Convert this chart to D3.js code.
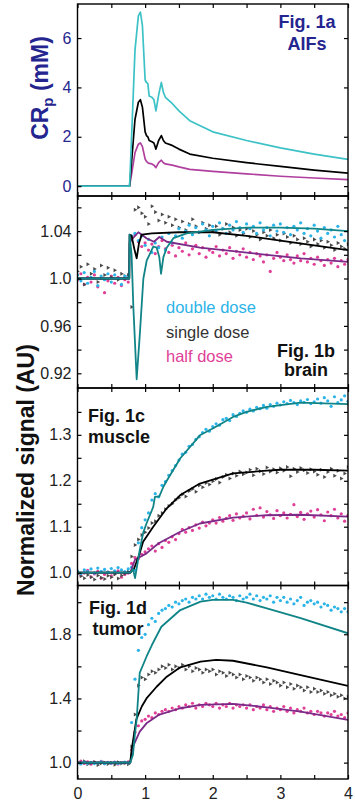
<!DOCTYPE html>
<html>
<head>
<meta charset="utf-8">
<script src="https://cdn.jsdelivr.net/npm/d3@7"></script>
<style>
  html, body { margin: 0; padding: 0; background: #fff; }
  svg { display: block; font-family: "Liberation Sans", Arial, sans-serif; }
</style>
</head>
<body>
<div id="chart"></div>
<script>
// sampling times (min) shared by all measured points
const sampleTimes = [
  0, 0.05, 0.1, 0.15, 0.2, 0.25, 0.3, 0.35, 0.4, 0.45,
  0.5, 0.55, 0.6, 0.65, 0.7, 0.75, 0.8, 0.85, 0.9, 0.95,
  1.0, 1.05, 1.1, 1.15, 1.2, 1.25, 1.3, 1.35, 1.4, 1.45,
  1.5, 1.55, 1.6, 1.65, 1.7, 1.75, 1.8, 1.85, 1.9, 1.95,
  2.0, 2.05, 2.1, 2.15, 2.2, 2.25, 2.3, 2.35, 2.4, 2.45,
  2.5, 2.55, 2.6, 2.65, 2.7, 2.75, 2.8, 2.85, 2.9, 2.95,
  3.0, 3.05, 3.1, 3.15, 3.2, 3.25, 3.3, 3.35, 3.4, 3.45,
  3.5, 3.55, 3.6, 3.65, 3.7, 3.75, 3.8, 3.85, 3.9, 3.95,
  4.0
];

// Fig 1a: arterial input functions (mM)
const aifTimes = [0, 0.77, 0.8, 0.85, 0.9, 0.93, 0.96, 1.0, 1.02, 1.04, 1.06, 1.1, 1.13, 1.16, 1.2, 1.24, 1.27, 1.3, 1.4, 1.5, 1.66, 2.0, 2.5, 3.0, 3.5, 4.0];
const aifDouble = [0, 0, 2.0, 5.5, 6.9, 7.05, 6.5, 4.3, 4.2, 4.15, 3.65, 3.6, 3.5, 3.05, 3.7, 4.2, 3.8, 3.6, 3.35, 3.05, 2.65, 2.2, 1.85, 1.55, 1.3, 1.08];
const aifSingle = [0, 0, 1.0, 2.7, 3.4, 3.5, 3.2, 2.2, 2.05, 2.0, 1.85, 1.8, 1.75, 1.5, 1.85, 2.05, 1.85, 1.75, 1.65, 1.5, 1.3, 1.13, 0.95, 0.8, 0.65, 0.53];
const aifHalf   = [0, 0, 0.5, 1.35, 1.7, 1.75, 1.6, 1.1, 1.0, 0.95, 0.92, 0.9, 0.85, 0.75, 0.95, 1.05, 0.95, 0.9, 0.85, 0.78, 0.68, 0.6, 0.5, 0.4, 0.33, 0.26];

// Fig 1b: brain
const brainDouble = [
  1.003, 0.998, 1.005, 0.996, 1.001, 1.006, 0.994, 1.002, 0.999, 1.004,
  0.997, 1.003, 1.000, 0.995, 1.002, 1.001, 1.036, 1.038, 1.032, 1.036,
  1.028, 1.033, 1.022, 1.030, 1.026, 1.035, 1.024, 1.038, 1.030, 1.036,
  1.042, 1.034, 1.040, 1.045, 1.037, 1.043, 1.039, 1.046, 1.041, 1.036,
  1.044, 1.040, 1.047, 1.042, 1.038, 1.045, 1.041, 1.048, 1.043, 1.039,
  1.046, 1.042, 1.044, 1.038, 1.047, 1.041, 1.043, 1.036, 1.045, 1.040,
  1.046, 1.039, 1.043, 1.037, 1.044, 1.041, 1.047, 1.038, 1.042, 1.036,
  1.045, 1.040, 1.034, 1.043, 1.038, 1.041, 1.035, 1.044, 1.037, 1.032,
  1.040
];
const brainSingle = [
  1.006, 1.010, 0.995, 1.012, 1.004, 1.008, 0.997, 1.011, 1.003, 1.009,
  1.001, 1.007, 0.999, 1.004, 1.002, 1.003, 0.976, 1.058, 1.060, 1.055,
  1.052, 1.046, 1.061, 1.056, 1.049, 1.054, 1.047, 1.052, 1.045, 1.050,
  1.043, 1.048, 1.041, 1.046, 1.050, 1.044, 1.039, 1.047, 1.042, 1.045,
  1.040, 1.044, 1.037, 1.042, 1.046, 1.039, 1.043, 1.036, 1.041, 1.038,
  1.042, 1.035, 1.040, 1.037, 1.033, 1.039, 1.036, 1.041, 1.034, 1.037,
  1.032, 1.038, 1.035, 1.030, 1.036, 1.033, 1.029, 1.034, 1.031, 1.027,
  1.033, 1.029, 1.032, 1.026, 1.031, 1.028, 1.024, 1.030, 1.027, 1.025,
  1.029
];
const brainHalf = [
  0.999, 1.004, 0.995, 1.001, 0.997, 1.003, 0.993, 1.000, 0.988, 0.998,
  1.002, 0.996, 1.001, 0.994, 0.999, 0.997, 1.034, 1.037, 1.031, 1.027,
  1.030, 1.024, 1.029, 1.021, 1.027, 1.032, 1.025, 1.022, 1.028, 1.019,
  1.026, 1.023, 1.030, 1.020, 1.025, 1.028, 1.021, 1.026, 1.018, 1.024,
  1.022, 1.027, 1.019, 1.024, 1.021, 1.026, 1.017, 1.023, 1.020, 1.025,
  1.018, 1.022, 1.016, 1.021, 1.019, 1.014, 1.020, 1.006, 1.017, 1.022,
  1.018, 1.015, 1.020, 1.016, 1.013, 1.019, 1.015, 1.021, 1.014, 1.017,
  1.012, 1.018, 1.015, 1.011, 1.016, 1.013, 1.017, 1.010, 1.015, 1.012,
  1.016
];
const brainFitDoubleT = [0, 0.765, 0.77, 0.8, 0.826, 0.875, 0.924, 0.974, 1.023, 1.122, 1.171, 1.21, 1.235, 1.27, 1.319, 1.418, 1.615, 2.0, 2.5, 3.0, 3.5, 4.0];
const brainFitDouble  = [1.0, 1.0, 1.037, 1.02, 0.976, 0.915, 0.955, 1.0, 1.015, 1.027, 1.026, 1.018, 1.004, 1.018, 1.026, 1.034, 1.038, 1.041, 1.043, 1.043, 1.042, 1.040];
const brainFitSingleT = [0, 0.765, 0.77, 0.8, 0.84, 0.875, 0.91, 0.95, 1.1, 1.5, 2.0, 2.5, 3.0, 3.5, 4.0];
const brainFitSingle  = [1.0, 1.0, 1.037, 1.036, 1.025, 1.017, 1.03, 1.037, 1.038, 1.039, 1.039, 1.036, 1.032, 1.028, 1.024];
const brainFitHalfT = [0, 0.765, 0.77, 0.82, 0.9, 1.02, 1.13, 1.21, 1.32, 1.81, 2.3, 2.8, 3.3, 4.0];
const brainFitHalf  = [1.0, 1.0, 1.03, 1.034, 1.039, 1.034, 1.031, 1.035, 1.031, 1.026, 1.023, 1.020, 1.017, 1.014];

// Fig 1c: muscle
const muscleDouble = [
  1.004, 0.998, 1.006, 1.002, 1.008, 0.999, 1.010, 1.003, 1.007, 1.001,
  1.009, 1.004, 1.011, 1.006, 1.002, 1.008, 1.012, 1.005, 1.065, 1.098,
  1.115, 1.130, 1.158, 1.172, 1.165, 1.190, 1.198, 1.212, 1.222, 1.233,
  1.245, 1.258, 1.262, 1.275, 1.279, 1.290, 1.296, 1.305, 1.312, 1.308,
  1.318, 1.324, 1.321, 1.333, 1.336, 1.331, 1.344, 1.340, 1.347, 1.352,
  1.349, 1.356, 1.352, 1.360, 1.357, 1.364, 1.358, 1.366, 1.362, 1.369,
  1.365, 1.372, 1.368, 1.375, 1.370, 1.366, 1.374, 1.371, 1.377, 1.368,
  1.372, 1.378, 1.369, 1.381, 1.374, 1.362, 1.383, 1.370, 1.376, 1.385,
  1.373
];
const muscleSingle = [
  0.997, 0.992, 0.988, 0.995, 0.990, 0.985, 0.994, 0.989, 0.986, 0.993,
  0.990, 0.996, 0.987, 0.994, 0.998, 1.002, 1.035, 1.060, 1.072, 1.082,
  1.088, 1.097, 1.108, 1.112, 1.124, 1.130, 1.138, 1.145, 1.150, 1.158,
  1.163, 1.170, 1.166, 1.178, 1.182, 1.176, 1.190, 1.186, 1.195, 1.192,
  1.199, 1.204, 1.196, 1.208, 1.213, 1.205, 1.216, 1.211, 1.220, 1.214,
  1.218, 1.224, 1.212, 1.226, 1.221, 1.215, 1.229, 1.220, 1.225, 1.218,
  1.227, 1.222, 1.230, 1.210, 1.226, 1.219, 1.228, 1.223, 1.217, 1.225,
  1.220, 1.213, 1.224, 1.208, 1.219, 1.226, 1.211, 1.222, 1.205, 1.216,
  1.230
];
const muscleHalf = [
  1.002, 0.994, 0.999, 1.005, 0.991, 0.997, 1.003, 0.988, 0.996, 1.001,
  0.993, 0.998, 1.004, 0.990, 0.996, 0.999, 1.020, 1.033, 1.030, 1.040,
  1.045, 1.052, 1.058, 1.047, 1.063, 1.055, 1.070, 1.066, 1.078, 1.072,
  1.085, 1.094, 1.088, 1.098, 1.092, 1.104, 1.097, 1.110, 1.102, 1.108,
  1.115, 1.108, 1.120, 1.112, 1.118, 1.124, 1.114, 1.128, 1.119, 1.123,
  1.130, 1.117, 1.138, 1.125, 1.141, 1.121, 1.133, 1.126, 1.118, 1.135,
  1.124, 1.130, 1.119, 1.127, 1.148, 1.122, 1.131, 1.116, 1.128, 1.134,
  1.121, 1.137, 1.126, 1.113, 1.132, 1.124, 1.138, 1.119, 1.128, 1.112,
  1.125
];
const muscleFitDoubleT = [0, 0.78, 0.82, 0.851, 0.92, 0.97, 1.02, 1.12, 1.145, 1.21, 1.27, 1.32, 1.52, 1.81, 2.0, 2.3, 2.5, 2.8, 3.3, 4.0];
const muscleFitDouble  = [1.0, 1.0, 1.008, 0.988, 1.049, 1.086, 1.107, 1.143, 1.165, 1.166, 1.187, 1.2, 1.249, 1.299, 1.314, 1.339, 1.35, 1.361, 1.37, 1.367];
const muscleFitSingleT = [0, 0.78, 0.84, 0.92, 0.97, 1.12, 1.32, 1.52, 1.81, 2.3, 2.8, 3.0, 3.5, 4.0];
const muscleFitSingle  = [1.0, 1.0, 1.01, 1.042, 1.067, 1.1, 1.14, 1.169, 1.194, 1.216, 1.222, 1.224, 1.224, 1.222];
const muscleFitHalfT = [0, 0.78, 0.85, 1.02, 1.2, 1.52, 1.81, 2.3, 2.8, 3.3, 4.0];
const muscleFitHalf  = [1.0, 1.0, 1.028, 1.042, 1.064, 1.089, 1.107, 1.12, 1.125, 1.126, 1.122];

// Fig 1d: tumor
const tumorDouble = [
  0.998, 0.992, 1.003, 0.996, 1.001, 0.994, 0.999, 1.005, 0.993, 1.000,
  0.997, 1.002, 0.995, 0.999, 1.004, 0.998, 1.25, 1.52, 1.70, 1.78,
  1.80, 1.86, 1.90, 1.88, 1.93, 1.95, 1.96, 1.98, 1.97, 2.00,
  1.99, 2.01, 2.02, 2.00, 2.03, 2.02, 2.04, 2.02, 2.05, 2.03,
  2.04, 2.02, 2.05, 2.03, 2.02, 2.04, 2.03, 2.01, 2.04, 2.02,
  2.03, 2.05, 2.02, 2.04, 2.01, 2.03, 2.02, 2.04, 2.00, 2.03,
  2.01, 2.03, 2.00, 2.02, 1.99, 2.01, 2.03, 1.98, 2.00, 2.01,
  1.99, 2.00, 1.97, 1.99, 1.98, 1.95, 1.97, 1.96, 1.94, 1.96,
  1.94
];
const tumorSingle = [
  1.002, 0.995, 1.008, 0.990, 0.998, 1.004, 0.985, 0.996, 1.001, 0.992,
  0.999, 0.987, 1.003, 0.994, 0.998, 0.990, 1.10, 1.30, 1.48, 1.53,
  1.52, 1.55, 1.57, 1.56, 1.58, 1.60, 1.59, 1.61, 1.58, 1.60,
  1.59, 1.61, 1.58, 1.60, 1.57, 1.59, 1.58, 1.56, 1.58, 1.57,
  1.58, 1.55, 1.57, 1.56, 1.54, 1.56, 1.55, 1.53, 1.55, 1.52,
  1.54, 1.53, 1.51, 1.53, 1.52, 1.50, 1.52, 1.49, 1.51, 1.50,
  1.48, 1.50, 1.47, 1.49, 1.46, 1.48, 1.47, 1.45, 1.47, 1.44,
  1.46, 1.44, 1.45, 1.43, 1.44, 1.42, 1.43, 1.41, 1.42, 1.40,
  1.41
];
const tumorHalf = [
  1.00, 1.01, 0.995, 1.005, 0.99, 1.003, 0.997, 1.008, 0.993, 1.002,
  0.996, 1.004, 0.991, 1.00, 0.998, 1.005, 1.08, 1.19, 1.23, 1.26,
  1.27, 1.29, 1.28, 1.31, 1.30, 1.32, 1.33, 1.32, 1.34, 1.33,
  1.35, 1.34, 1.36, 1.35, 1.37, 1.34, 1.36, 1.35, 1.37, 1.36,
  1.35, 1.37, 1.34, 1.36, 1.35, 1.37, 1.34, 1.36, 1.35, 1.36,
  1.34, 1.36, 1.33, 1.35, 1.34, 1.36, 1.33, 1.35, 1.32, 1.34,
  1.33, 1.35, 1.32, 1.34, 1.31, 1.33, 1.32, 1.34, 1.31, 1.32,
  1.30, 1.32, 1.31, 1.29, 1.31, 1.30, 1.32, 1.29, 1.30, 1.28,
  1.31
];
const tumorFitDoubleT = [0, 0.78, 0.82, 0.85, 0.875, 0.92, 1.02, 1.1, 1.24, 1.52, 1.82, 2.0, 2.3, 2.5, 2.8, 3.3, 4.0];
const tumorFitDouble  = [1.0, 1.0, 1.05, 1.18, 1.27, 1.56, 1.66, 1.733, 1.847, 1.951, 2.003, 2.014, 2.014, 1.997, 1.962, 1.9, 1.806];
const tumorFitSingleT = [0, 0.78, 0.8, 0.87, 0.95, 1.02, 1.17, 1.32, 1.52, 1.82, 2.05, 2.3, 2.8, 3.3, 4.0];
const tumorFitSingle  = [1.0, 1.0, 1.08, 1.27, 1.35, 1.40, 1.473, 1.536, 1.594, 1.63, 1.64, 1.635, 1.594, 1.546, 1.478];
const tumorFitHalfT = [0, 0.78, 0.82, 0.92, 1.02, 1.2, 1.52, 1.82, 2.3, 2.8, 3.3, 4.0];
const tumorFitHalf  = [1.0, 1.0, 1.1, 1.193, 1.245, 1.297, 1.339, 1.36, 1.366, 1.345, 1.318, 1.266];

// axis ticks
const xTicks = [0, 0.5, 1, 1.5, 2, 2.5, 3, 3.5, 4];
const xTickLabels = [0, 1, 2, 3, 4];
const aifTicks = [0, 2, 4, 6];
const brainTicks = [0.92, 0.94, 0.96, 0.98, 1.0, 1.02, 1.04, 1.06];
const brainTickLabels = ['0.92', '0.96', '1.0', '1.04'];
const muscleTicks = [1.0, 1.05, 1.1, 1.15, 1.2, 1.25, 1.3, 1.35];
const muscleTickLabels = ['1.0', '1.1', '1.2', '1.3'];
const tumorTicks = [1.0, 1.2, 1.4, 1.6, 1.8, 2.0];
const tumorTickLabels = ['1.0', '1.4', '1.8'];

const legendNames = ['double dose', 'single dose', 'half dose'];

// ---- drawing ----
const W = 355, H = 806;
const left = 77.5, right = 348;
const navy = '#25258f';
const col = {
  dotDouble: '#2cb4e8', dotSingle: '#4a4a4a', dotHalf: '#df3f97',
  fitDouble: '#108487', fitSingle: '#000000', fitHalf: '#7c2a88',
  aifDouble: '#3cc2c6', aifSingle: '#000000', aifHalf: '#b0409f'
};

const svg = d3.select('#chart').append('svg')
  .attr('width', W).attr('height', H);

const x = d3.scaleLinear().domain([0, 4]).range([left, right]);

const panels = [
  { id: 'a', top: 4, bottom: 196, domain: [-0.40, 7.38], ticks: aifTicks,
    fmt: d => String(d), tickColor: navy },
  { id: 'b', top: 196, bottom: 388, domain: [0.9076, 1.0696], ticks: brainTicks,
    fmt: d => brainTickLabels.find(s => Math.abs(+s - d) < 1e-6) || '', tickColor: '#222' },
  { id: 'c', top: 388, bottom: 585.5, domain: [0.972, 1.402], ticks: muscleTicks,
    fmt: d => muscleTickLabels.find(s => Math.abs(+s - d) < 1e-6) || '', tickColor: '#222' },
  { id: 'd', top: 585.5, bottom: 779, domain: [0.898, 2.104], ticks: tumorTicks,
    fmt: d => tumorTickLabels.find(s => Math.abs(+s - d) < 1e-6) || '', tickColor: '#222' }
];

panels.forEach(p => {
  p.y = d3.scaleLinear().domain(p.domain).range([p.bottom, p.top]);
  svg.append('clipPath').attr('id', 'clip-' + p.id)
    .append('rect').attr('x', left).attr('y', p.top)
    .attr('width', right - left).attr('height', p.bottom - p.top);
  p.g = svg.append('g').attr('clip-path', `url(#clip-${p.id})`);
});

function drawLine(p, ts, vs, color, width) {
  const pts = ts.map((t, i) => [t, vs[i]]);
  p.g.append('path')
    .datum(pts)
    .attr('fill', 'none')
    .attr('stroke', color)
    .attr('stroke-width', width)
    .attr('stroke-linejoin', 'round')
    .attr('d', d3.line().x(d => x(d[0])).y(d => p.y(d[1])));
}

function drawDots(p, vs, color) {
  p.g.append('g').selectAll('circle')
    .data(vs)
    .enter().append('circle')
    .attr('cx', (d, i) => x(sampleTimes[i]))
    .attr('cy', d => p.y(d))
    .attr('r', 1.6)
    .attr('fill', color);
}

function drawTriangles(p, vs, color) {
  const sym = d3.symbol().type(d3.symbolTriangle).size(7);
  p.g.append('g').selectAll('path')
    .data(vs)
    .enter().append('path')
    .attr('d', sym)
    .attr('transform', (d, i) => `translate(${x(sampleTimes[i])},${p.y(d)}) rotate(90)`)
    .attr('fill', color);
}

// panel a
const pa = panels[0];
drawLine(pa, aifTimes, aifHalf, col.aifHalf, 1.7);
drawLine(pa, aifTimes, aifSingle, col.aifSingle, 1.7);
drawLine(pa, aifTimes, aifDouble, col.aifDouble, 1.7);

// panels b-d
const sets = [
  { p: panels[1], dbl: brainDouble, sgl: brainSingle, hlf: brainHalf,
    fits: [[brainFitHalfT, brainFitHalf, col.fitHalf], [brainFitSingleT, brainFitSingle, col.fitSingle], [brainFitDoubleT, brainFitDouble, col.fitDouble]] },
  { p: panels[2], dbl: muscleDouble, sgl: muscleSingle, hlf: muscleHalf,
    fits: [[muscleFitHalfT, muscleFitHalf, col.fitHalf], [muscleFitSingleT, muscleFitSingle, col.fitSingle], [muscleFitDoubleT, muscleFitDouble, col.fitDouble]] },
  { p: panels[3], dbl: tumorDouble, sgl: tumorSingle, hlf: tumorHalf,
    fits: [[tumorFitHalfT, tumorFitHalf, col.fitHalf], [tumorFitSingleT, tumorFitSingle, col.fitSingle], [tumorFitDoubleT, tumorFitDouble, col.fitDouble]] }
];
sets.forEach(s => {
  drawDots(s.p, s.hlf, col.dotHalf);
  drawTriangles(s.p, s.sgl, col.dotSingle);
  drawDots(s.p, s.dbl, col.dotDouble);
  s.fits.forEach(f => drawLine(s.p, f[0], f[1], f[2], 1.8));
});

// axes: inward ticks on all four sides
panels.forEach((p, k) => {
  const last = k === panels.length - 1;
  const gl = svg.append('g').attr('transform', `translate(${left},0)`)
    .call(d3.axisLeft(p.y).tickValues(p.ticks).tickSizeInner(-4).tickSizeOuter(0)
      .tickPadding(6).tickFormat(p.fmt));
  gl.selectAll('text').attr('font-size', 16).attr('fill', p.tickColor)
    .attr('font-family', '"Liberation Sans", Arial, sans-serif');
  svg.append('g').attr('transform', `translate(${right},0)`)
    .call(d3.axisRight(p.y).tickValues(p.ticks).tickSizeInner(-4).tickSizeOuter(0).tickFormat(''));
  svg.append('g').attr('transform', `translate(0,${p.top})`)
    .call(d3.axisTop(x).tickValues(xTicks).tickSizeInner(-4).tickSizeOuter(0).tickFormat(''));
  const gb = svg.append('g').attr('transform', `translate(0,${p.bottom})`)
    .call(d3.axisBottom(x).tickValues(xTicks).tickSizeInner(-4).tickSizeOuter(0).tickPadding(9)
      .tickFormat(d => (last && xTickLabels.includes(d)) ? String(d) : ''));
  gb.selectAll('text').attr('font-size', 16).attr('fill', '#222')
    .attr('font-family', '"Liberation Sans", Arial, sans-serif');
  svg.selectAll('.domain').remove();
  svg.selectAll('.tick line').attr('stroke', '#000').attr('stroke-width', 1.2);
  svg.append('rect')
    .attr('x', left).attr('y', p.top)
    .attr('width', right - left).attr('height', p.bottom - p.top)
    .attr('fill', 'none').attr('stroke', '#000').attr('stroke-width', 1.4);
});

// titles inside panels
function label(xp, yp, lines, opts) {
  const t = svg.append('text')
    .attr('x', xp).attr('y', yp)
    .attr('text-anchor', opts.anchor || 'start')
    .attr('font-size', opts.size || 18)
    .attr('font-weight', opts.weight || 'bold')
    .attr('fill', opts.color || '#111');
  lines.forEach((s, i) => t.append('tspan').attr('x', xp).attr('dy', i ? opts.gap : 0).text(s));
}
label(307, 28, ['Fig. 1a', 'AIFs'], { anchor: 'middle', color: navy, gap: 22 });
label(306, 357, ['Fig. 1b', 'brain'], { anchor: 'middle', gap: 19 });
label(88, 422, ['Fig. 1c', 'muscle'], { gap: 21 });
label(118, 614, ['Fig. 1d', 'tumor'], { anchor: 'middle', gap: 21 });

// legend in panel b
const legendColors = [col.dotDouble, '#333', col.dotHalf];
legendNames.forEach((n, i) => {
  svg.append('text')
    .attr('x', 166).attr('y', 313 + i * 24.5)
    .attr('font-size', 16.5)
    .attr('fill', legendColors[i])
    .text(n);
});

// y axis titles
const crLabel = svg.append('text')
  .attr('transform', 'translate(48,88) rotate(-90)')
  .attr('text-anchor', 'middle')
  .attr('font-size', 23).attr('font-weight', 'bold').attr('fill', navy);
crLabel.append('tspan').text('CR');
crLabel.append('tspan').attr('font-size', 15).attr('dy', 5).text('p');
crLabel.append('tspan').attr('dy', -5).text(' (mM)');

svg.append('text')
  .attr('transform', 'translate(34,470) rotate(-90)')
  .attr('text-anchor', 'middle')
  .attr('font-size', 23).attr('font-weight', 'bold').attr('fill', '#111')
  .text('Normalized signal  (AU)');
</script>
</body>
</html>
